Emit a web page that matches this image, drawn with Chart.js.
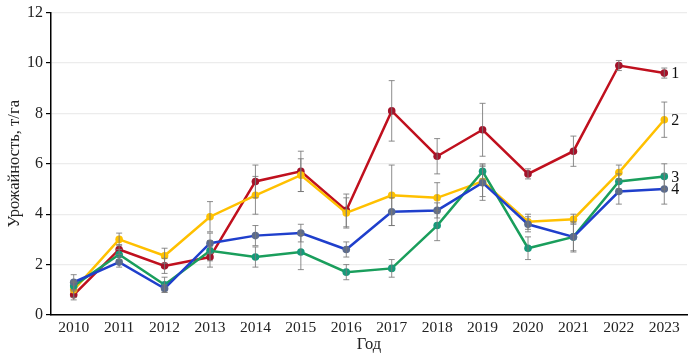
<!DOCTYPE html>
<html lang="ru">
<head>
  <meta charset="UTF-8" />
  <title>Урожайность</title>
  <style>
    * { margin: 0; padding: 0; box-sizing: border-box; }
    html, body { width: 691px; height: 355px; background: #fff; overflow: hidden; }
    .wrap { width: 691px; height: 355px; position: relative; }
    canvas { display: block; }
  </style>
</head>
<body>
  <div class="wrap"><canvas id="grafico"></canvas></div>
  <script src="https://cdn.jsdelivr.net/npm/chart.js"></script>
  <script>
    // годы
    const years = ['2010','2011','2012','2013','2014','2015','2016','2017','2018','2019','2020','2021','2022','2023'];

    // урожайность по вариантам, т/га
    const s1 = [0.8, 2.6, 1.95, 2.3, 5.3, 5.7, 4.15, 8.1, 6.3, 7.35, 5.6, 6.5, 9.9, 9.6];
    const s2 = [1.0, 3.0, 2.35, 3.9, 4.75, 5.55, 4.05, 4.75, 4.65, 5.3, 3.7, 3.8, 5.65, 7.75];
    const s3 = [1.15, 2.4, 1.2, 2.55, 2.3, 2.5, 1.7, 1.85, 3.55, 5.7, 2.65, 3.1, 5.3, 5.5];
    const s4 = [1.3, 2.1, 1.05, 2.85, 3.15, 3.25, 2.6, 4.1, 4.15, 5.25, 3.6, 3.1, 4.9, 5.0];

    // погрешности (±)
    const e1 = [0.2, 0.2, 0.3, 0.4, 0.65, 0.8, 0.65, 1.2, 0.7, 1.05, 0.2, 0.6, 0.2, 0.2];
    const e2 = [0.3, 0.25, 0.3, 0.6, 0.75, 0.65, 0.6, 1.2, 0.6, 0.6, 0.3, 0.2, 0.3, 0.7];
    const e3 = [0.2, 0.2, 0.3, 0.4, 0.4, 0.7, 0.3, 0.35, 0.6, 0.3, 0.45, 0.6, 0.3, 0.5];
    const e4 = [0.3, 0.2, 0.15, 0.4, 0.4, 0.35, 0.3, 0.55, 0.3, 0.7, 0.3, 0.55, 0.5, 0.6];

    const seriesNames = ['1', '2', '3', '4'];
    const yTicks = [0, 2, 4, 6, 8, 10, 12];

    const serif = "'Liberation Serif', 'Times New Roman', serif";

    // рисуем усы погрешностей и номера кривых
    const errorBars = {
      id: 'errorBars',
      afterDatasetsDraw(chart) {
        const ctx = chart.ctx;
        const x = chart.scales.x, y = chart.scales.y;
        ctx.save();
        ctx.strokeStyle = 'rgba(120,120,120,0.85)';
        ctx.lineWidth = 1;
        chart.data.datasets.forEach(ds => {
          ds.data.forEach((v, i) => {
            const e = ds.err[i];
            const px = x.getPixelForValue(i);
            const top = y.getPixelForValue(v + e);
            const bot = y.getPixelForValue(v - e);
            ctx.beginPath();
            ctx.moveTo(px, top); ctx.lineTo(px, bot);
            ctx.moveTo(px - 3, top); ctx.lineTo(px + 3, top);
            ctx.moveTo(px - 3, bot); ctx.lineTo(px + 3, bot);
            ctx.stroke();
          });
        });
        ctx.restore();
      },
      afterDraw(chart) {
        const ctx = chart.ctx;
        const x = chart.scales.x, y = chart.scales.y;
        ctx.save();
        ctx.fillStyle = '#111';
        ctx.font = '16px ' + serif;
        ctx.textBaseline = 'middle';
        chart.data.datasets.forEach(ds => {
          const last = ds.data.length - 1;
          ctx.fillText(ds.label, x.getPixelForValue(last) + 7, y.getPixelForValue(ds.data[last]) + 1);
        });
        ctx.restore();
      }
    };

    function line(label, data, err, color, pointColor) {
      return {
        label, data, err,
        borderColor: color,
        backgroundColor: pointColor,
        pointBackgroundColor: pointColor,
        pointBorderColor: pointColor,
        pointBorderWidth: 0,
        pointRadius: 3.8,
        borderWidth: 2.5,
        tension: 0
      };
    }

    const ctx = document.getElementById('grafico');
    ctx.width = 691; ctx.height = 355;

    new Chart(ctx, {
      type: 'line',
      data: {
        labels: years,
        datasets: [
          line(seriesNames[3], s4, e4, '#1f3fcc', '#5b6b8e'),
          line(seriesNames[2], s3, e3, '#1a9e5c', '#169a7a'),
          line(seriesNames[1], s2, e2, '#ffc000', '#ffc200'),
          line(seriesNames[0], s1, e1, '#c0101e', '#a3132a')
        ]
      },
      options: {
        responsive: false,
        animation: false,
        devicePixelRatio: 1,
        layout: { padding: { top: 11, right: 3, left: 0, bottom: 0 } },
        plugins: { legend: { display: false }, tooltip: { enabled: false } },
        scales: {
          x: {
            offset: true,
            grid: { display: false, drawTicks: false },
            border: { color: '#000', width: 1.5 },
            ticks: { color: '#222', font: { family: serif, size: 15.5 }, padding: 4, maxRotation: 0, autoSkip: false },
            title: { display: true, text: 'Год', color: '#222', font: { family: serif, size: 16.5 }, padding: { top: 0, bottom: 0 } },
            afterFit: s => { s.height = 40; }
          },
          y: {
            min: 0, max: 12,
            afterBuildTicks: s => { s.ticks = yTicks.map(v => ({ value: v })); },
            grid: { color: '#ececec', tickColor: '#000', tickLength: 5, lineWidth: 1.2 },
            border: { color: '#000', width: 1.5 },
            ticks: { color: '#222', font: { family: serif, size: 16 }, padding: 3 },
            title: { display: true, text: 'Урожайность, т/га', color: '#222', font: { family: serif, size: 16.5 }, padding: { top: 5, bottom: 0 } },
            afterFit: s => { s.width = 51; }
          }
        }
      },
      plugins: [errorBars]
    });
  </script>
</body>
</html>
